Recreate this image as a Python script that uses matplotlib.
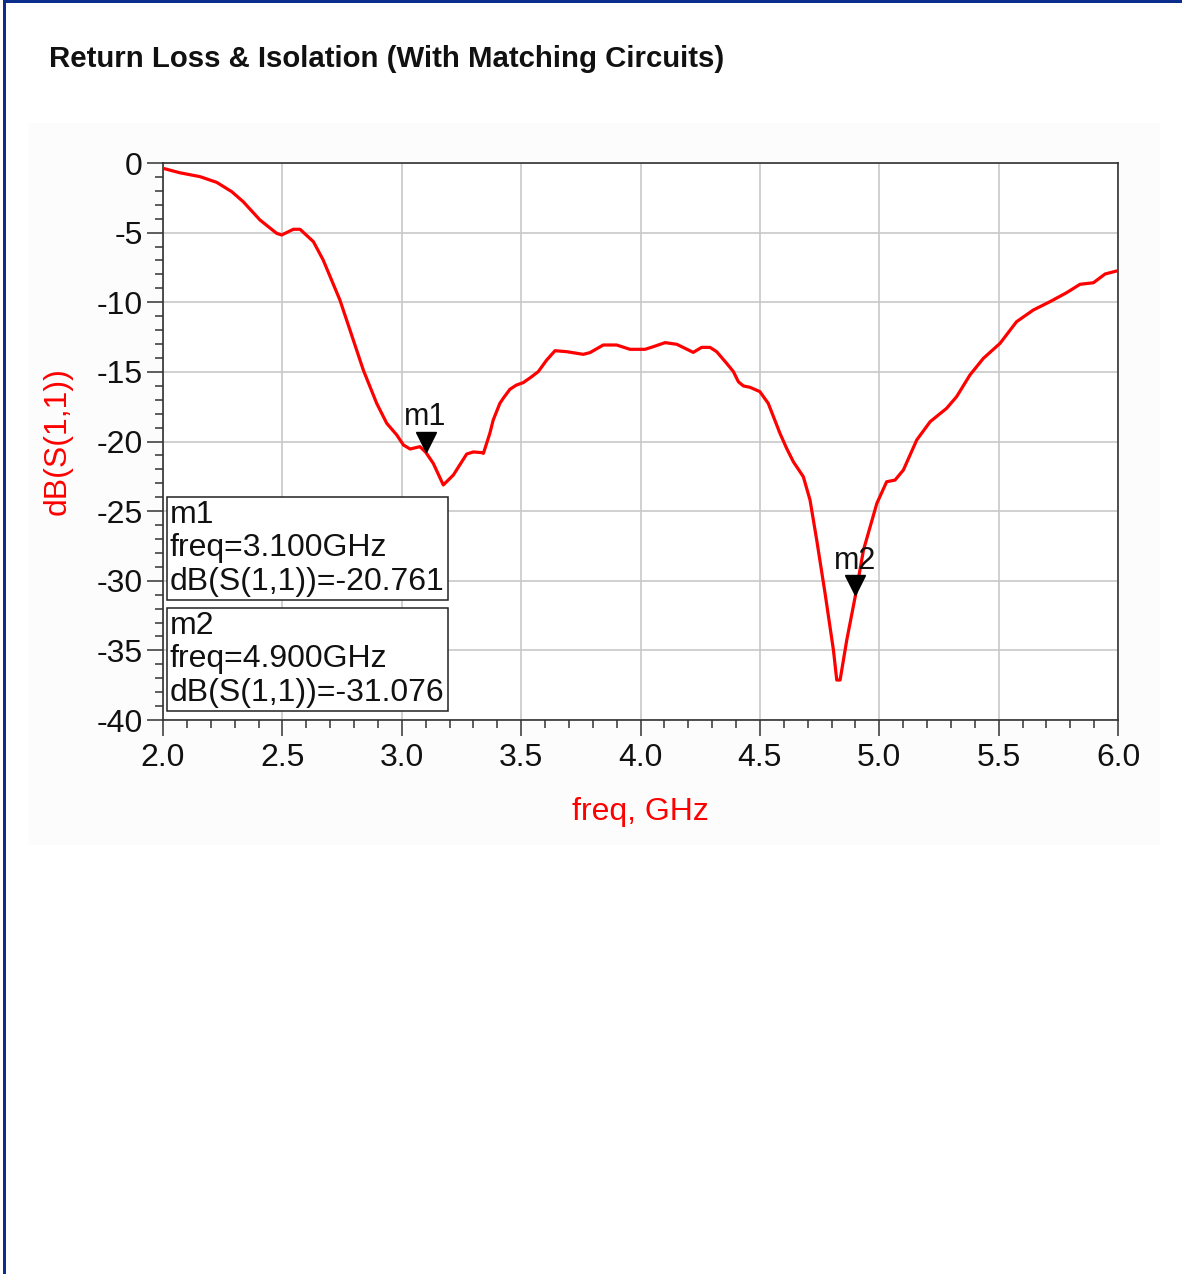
import matplotlib
matplotlib.use("Agg")
import matplotlib.pyplot as plt
from matplotlib.patches import Rectangle
from matplotlib.transforms import offset_copy
from matplotlib.ticker import MultipleLocator

plt.rcParams['font.family'] = ['Liberation Sans', 'DejaVu Sans']
plt.rcParams['axes.unicode_minus'] = False

# ---- data ----
freq_ghz = [2.000, 2.070, 2.155, 2.225, 2.288, 2.336, 2.406, 2.476, 2.497, 2.546,
            2.574, 2.630, 2.671, 2.741, 2.783, 2.839, 2.895, 2.937, 2.979, 3.007,
            3.035, 3.076, 3.100, 3.132, 3.174, 3.216, 3.272, 3.300, 3.335, 3.342,
            3.369, 3.383, 3.411, 3.425, 3.453, 3.480, 3.509, 3.540, 3.572, 3.607,
            3.642, 3.691, 3.760, 3.788, 3.844, 3.900, 3.956, 4.019, 4.054, 4.103,
            4.152, 4.221, 4.256, 4.291, 4.319, 4.361, 4.389, 4.410, 4.431, 4.459,
            4.500, 4.535, 4.557, 4.584, 4.612, 4.640, 4.682, 4.710, 4.738, 4.773,
            4.808, 4.822, 4.836, 4.864, 4.900, 4.934, 4.990, 5.031, 5.066, 5.101,
            5.157, 5.213, 5.282, 5.324, 5.380, 5.436, 5.506, 5.575, 5.645, 5.715,
            5.785, 5.841, 5.897, 5.946, 6.000]
s11_db = [-0.38, -0.70, -0.98, -1.39, -2.06, -2.78, -4.09, -5.05, -5.17, -4.76,
          -4.76, -5.65, -6.97, -9.84, -11.99, -14.87, -17.26, -18.69, -19.53, -20.25,
          -20.54, -20.37, -20.76, -21.57, -23.12, -22.41, -20.90, -20.75, -20.80, -20.85,
          -19.41, -18.46, -17.26, -16.90, -16.25, -15.95, -15.77, -15.40, -14.98, -14.15,
          -13.48, -13.55, -13.74, -13.62, -13.07, -13.07, -13.38, -13.38, -13.19, -12.90,
          -13.02, -13.60, -13.24, -13.24, -13.55, -14.39, -14.98, -15.71, -16.01, -16.11,
          -16.42, -17.26, -18.22, -19.41, -20.49, -21.45, -22.53, -24.20, -27.07, -30.90,
          -34.97, -37.13, -37.13, -34.25, -31.08, -27.79, -24.44, -22.89, -22.77, -22.05,
          -19.89, -18.58, -17.62, -16.78, -15.22, -14.03, -12.95, -11.40, -10.56, -9.96,
          -9.31, -8.71, -8.60, -7.97, -7.73]

marker_names = ["m1", "m2"]
marker_freq = [3.100, 4.900]
marker_val = [-20.761, -31.076]

x_ticks = [2.0, 2.5, 3.0, 3.5, 4.0, 4.5, 5.0, 5.5, 6.0]
y_ticks = [0, -5, -10, -15, -20, -25, -30, -35, -40]

W, H = 1182, 1274
fig = plt.figure(figsize=(W / 100, H / 100), dpi=100)
fig.patch.set_facecolor('white')

# very light panel background
fig.add_artist(Rectangle((28 / W, 1 - 845 / H), (1160 - 28) / W, (845 - 123) / H,
                         transform=fig.transFigure, facecolor='#fcfcfc',
                         edgecolor='none', zorder=-5))
# blue frame (left and top)
blue = '#0b2d8c'
fig.add_artist(Rectangle((3 / W, 0), 3 / W, 1, transform=fig.transFigure,
                         facecolor=blue, edgecolor='none', zorder=10))
fig.add_artist(Rectangle((3 / W, 1 - 3 / H), 1, 3 / H, transform=fig.transFigure,
                         facecolor=blue, edgecolor='none', zorder=10))

fig.text(49 / W, 1 - 59 / H, "Return Loss & Isolation (With Matching Circuits)",
         fontsize=21.2, fontweight='bold', va='center', ha='left', color='#111111')

ax = fig.add_axes([163 / W, 1 - 720 / H, (1118 - 163) / W, (720 - 163) / H])
ax.set_facecolor('white')
ax.plot(freq_ghz, s11_db, color='#ff0000', lw=2.3, zorder=3)

ax.set_xlim(2, 6)
ax.set_ylim(-40, 0)
ax.set_xticks(x_ticks)
ax.set_xticklabels([f"{v:.1f}" for v in x_ticks])
ax.set_yticks(y_ticks)
ax.set_yticklabels([str(v) for v in y_ticks])
ax.xaxis.set_minor_locator(MultipleLocator(0.1))
ax.yaxis.set_minor_locator(MultipleLocator(1))
ax.grid(True, which='major', color='#c8c8c8', lw=1.2, zorder=0)
ax.set_axisbelow(True)
for s in ax.spines.values():
    s.set_color('#333333')
    s.set_linewidth(1.2)
ax.tick_params(which='major', length=11.5, width=1.1, color='#333333',
               labelsize=23, labelcolor='#111111')
ax.tick_params(axis='x', which='major', pad=5)
ax.tick_params(axis='y', which='major', pad=3)
ax.tick_params(which='minor', length=5.5, width=1.1, color='#333333')

ax.set_ylabel("dB(S(1,1))", color='#ff0000', fontsize=23, va='center')
ax.yaxis.set_label_coords((58 - 163) / 955, 0.5)
ax.set_xlabel("freq, GHz", color='#ff0000', fontsize=23, va='center')
ax.xaxis.set_label_coords(0.5, -(812 - 720) / 557)

# markers: triangle tip on the data point
tri_tr = offset_copy(ax.transData, fig=fig, x=0, y=10.4, units='dots')
ax.plot(marker_freq, marker_val, linestyle='none', marker='v', ms=15,
        color='black', transform=tri_tr, zorder=5, clip_on=False)
for name, f, v in zip(marker_names, marker_freq, marker_val):
    ax.annotate(name, (f, v), xytext=(0, 27), textcoords='offset pixels',
                ha='center', va='baseline', fontsize=22, color='#111111', zorder=6)

# marker readout boxes
box_tops = [500, 611]
for name, f, v, top in zip(marker_names, marker_freq, marker_val, box_tops):
    txt = f"{name}\nfreq={f:.3f}GHz\ndB(S(1,1))={v:.3f}"
    ax.text((170 - 163) / 955, (720 - top) / 557, txt, transform=ax.transAxes,
            ha='left', va='top', fontsize=23, linespacing=1.15, color='#111111',
            zorder=7,
            bbox=dict(boxstyle='square,pad=0.1', facecolor='white',
                      edgecolor='#222222', lw=1.1))

fig.savefig("out.png", dpi=100)
